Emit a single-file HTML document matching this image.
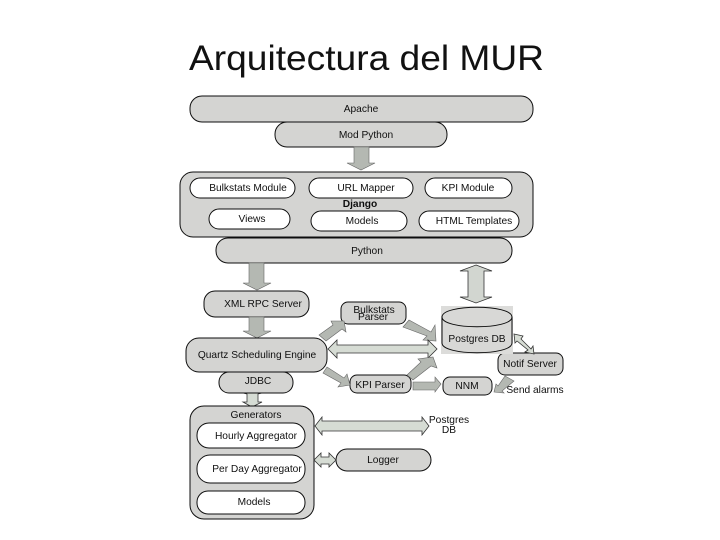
<!DOCTYPE html>
<html><head><meta charset="utf-8"><style>
html,body{margin:0;padding:0;background:#fff;width:720px;height:540px;overflow:hidden}
svg{display:block}
.b{fill:#d4d4d2;stroke:#111;stroke-width:1}
.w{fill:#fff;stroke:#111;stroke-width:1}
.a{fill:#b4b8b2;stroke:#666;stroke-width:.6}
.l{fill:#d6dcd4;stroke:#333;stroke-width:.8}
.t{font-family:"Liberation Sans",sans-serif;font-size:10.2px;fill:#111;text-anchor:middle}
</style></head><body>
<svg width="720" height="540" viewBox="0 0 720 540" xmlns="http://www.w3.org/2000/svg">
<defs><filter id="s" x="-2%" y="-2%" width="104%" height="104%"><feGaussianBlur stdDeviation="0.35"/></filter></defs>
<text x="189" y="70" textLength="355" lengthAdjust="spacingAndGlyphs" style="font-family:'Liberation Sans',sans-serif;font-size:35px;fill:#111">Arquitectura del MUR</text>
<g filter="url(#s)">
<!-- top stack -->
<rect class="b" x="190" y="96" width="343" height="26" rx="12"/>
<rect class="b" x="275" y="122" width="172" height="25" rx="12"/>
<polygon class="a" points="354,147 369,147 369,163 375,163 361,170 347,163 354,163"/>
<!-- Django -->
<rect class="b" x="180" y="172" width="353" height="65" rx="13"/>
<rect class="w" x="190" y="178" width="105" height="20" rx="10"/>
<rect class="w" x="309" y="178" width="104" height="20" rx="10"/>
<rect class="w" x="425" y="178" width="87" height="20" rx="10"/>
<rect class="w" x="209" y="209" width="81" height="20" rx="10"/>
<rect class="w" x="311" y="211" width="96" height="20" rx="10"/>
<rect class="w" x="419" y="211" width="100" height="20" rx="10"/>
<rect class="b" x="216" y="238" width="296" height="25" rx="12"/>
<!-- vertical arrows -->
<polygon class="a" points="249,263 264,263 264,283 271,283 257,290 243,283 249,283"/>
<polygon class="l" style="fill:#d2d6d0" points="476,265 492,271 484,271 484,297 492,297 476,303 460,297 468,297 468,271 460,271"/>
<rect class="b" x="204" y="291" width="105" height="26" rx="11"/>
<polygon class="a" points="249,317 264,317 264,331 271,331 257,338 243,331 249,331"/>
<!-- boxes -->
<rect class="b" x="341" y="302" width="65" height="22" rx="7"/>
<rect class="b" x="186" y="338" width="141" height="34" rx="13"/>
<rect class="b" x="350" y="375" width="61" height="18" rx="7"/>
<rect class="b" x="443" y="377" width="49" height="18" rx="7"/>
<rect class="b" x="498" y="353" width="65" height="22" rx="7"/>
<!-- Postgres DB -->
<rect x="441" y="306" width="72" height="48" fill="#dcdcda"/>
<path class="b" style="fill:#d8d8d6" d="M442,317 C442,304 512,304 512,317 L512,343 C512,356 442,356 442,343 Z"/>
<path d="M442,317 C442,330 512,330 512,317" fill="none" stroke="#111"/>
<!-- diagonal & small arrows -->
<polygon class="a" points="319,335 333,325 331,321 344,321 346,332 342,329 326,341"/>
<polygon class="a" points="403,327 409,320 431,332 435,325 436,341 423,340 427,336"/>
<polygon class="l" points="328,349 337,340 337,345 428,345 428,340 437,349 428,358 428,353 337,353 337,358"/>
<polygon class="a" points="407,375 421,362 418,359 433,357 437,368 431,366 413,380"/>
<polygon class="a" points="323,373 327,367 344,378 347,374 350,385 338,387 341,383"/>
<polygon class="a" points="413,382 435,382 435,377 441,384 435,392 435,390 413,390"/>
<polygon class="l" points="514,334 523,336 521,339 531,349 533,346 534,354 525,352 528,350 517,341 515,343"/>
<polygon class="a" points="505,376 514,381 502,391 504,393 494,392 496,384 498,386"/>
<polygon class="l" points="252,390 262,393 258,394 258,402 262,402 252,407 243,402 247,402 247,394 243,393"/>
<rect class="b" x="219" y="372" width="74" height="21" rx="10"/>
<!-- generators -->
<rect class="b" x="190" y="406" width="124" height="113" rx="14"/>
<rect class="w" x="197" y="423" width="108" height="25" rx="12"/>
<rect class="w" x="197" y="455" width="108" height="28" rx="13"/>
<rect class="w" x="197" y="491" width="108" height="23" rx="11"/>
<rect class="b" x="336" y="449" width="95" height="22" rx="11"/>
<polygon class="l" points="315,426 322,417 322,421 422,421 422,417 429,426 422,435 422,431 322,431 322,435"/>
<polygon class="l" points="314,460 321,453 321,457 329,457 329,453 336,460 329,467 329,464 321,464 321,467"/>
<!-- labels -->
<text class="t" x="361" y="112">Apache</text>
<text class="t" x="366" y="138">Mod Python</text>
<text class="t" x="248" y="191">Bulkstats Module</text>
<text class="t" x="366" y="191">URL Mapper</text>
<text class="t" x="468" y="191">KPI Module</text>
<text class="t" x="360" y="207" style="font-weight:bold">Django</text>
<text class="t" x="252" y="222">Views</text>
<text class="t" x="362" y="224">Models</text>
<text class="t" x="474" y="224">HTML Templates</text>
<text class="t" x="367" y="254">Python</text>
<text class="t" x="263" y="307">XML RPC Server</text>
<text class="t" x="374" y="313">Bulkstats</text>
<text class="t" x="373" y="320">Parser</text>
<text class="t" x="477" y="342">Postgres DB</text>
<text class="t" x="257" y="358">Quartz Scheduling Engine</text>
<text class="t" x="258" y="384">JDBC</text>
<text class="t" x="380" y="388">KPI Parser</text>
<text class="t" x="467" y="389">NNM</text>
<text class="t" x="530" y="367">Notif Server</text>
<text class="t" x="535" y="393">Send alarms</text>
<text class="t" x="256" y="418">Generators</text>
<text class="t" x="256" y="439">Hourly Aggregator</text>
<text class="t" x="257" y="472">Per Day Aggregator</text>
<text class="t" x="254" y="505">Models</text>
<text class="t" x="383" y="463">Logger</text>
<text class="t" x="449" y="423">Postgres</text>
<text class="t" x="449" y="433">DB</text>
</g>
</svg>
</body></html>
